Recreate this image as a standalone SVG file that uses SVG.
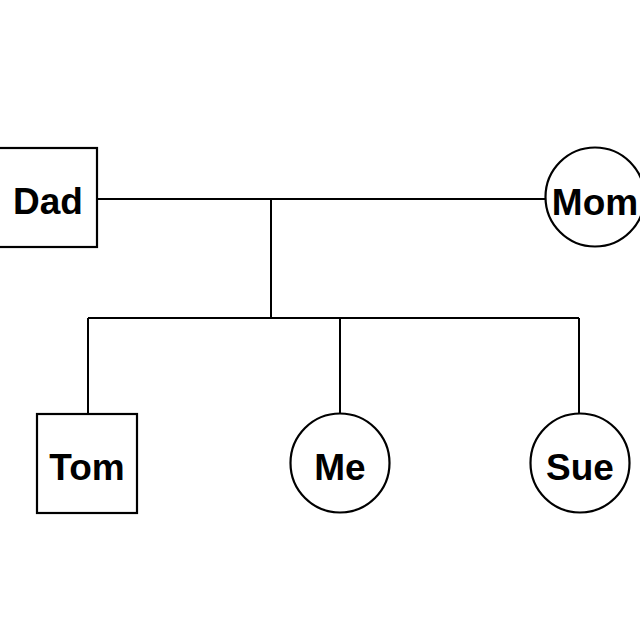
<svg xmlns="http://www.w3.org/2000/svg" width="640" height="640" viewBox="0 0 640 640">
<style>
.shape{fill:#fff;stroke:#000;stroke-width:2.2}
.lbl{font-family:"Liberation Sans",Arial,sans-serif;font-weight:bold;font-size:37px;text-anchor:middle;fill:#000}
.conn{stroke:#000;stroke-width:2;fill:none}
</style>
<rect width="640" height="640" fill="#fff"/>
<g id="connectors">
<line class="conn" x1="97" y1="199" x2="546" y2="199"/>
<line class="conn" x1="271" y1="199" x2="271" y2="318"/>
<line class="conn" x1="88" y1="318" x2="579" y2="318"/>
<line class="conn" x1="88" y1="318" x2="88" y2="414"/>
<line class="conn" x1="340" y1="318" x2="340" y2="414"/>
<line class="conn" x1="579" y1="318" x2="579" y2="414"/>
</g>
<g id="dad">
<rect class="shape" x="-3" y="148" width="100" height="99"/>
<text class="lbl" x="48" y="214">Dad</text>
</g>
<g id="mom">
<circle class="shape" cx="595" cy="197" r="49.5"/>
<text class="lbl" x="595" y="215">Mom</text>
</g>
<g id="tom">
<rect class="shape" x="37" y="414" width="100" height="99"/>
<text class="lbl" x="87" y="480">Tom</text>
</g>
<g id="me">
<circle class="shape" cx="340" cy="463" r="49.5"/>
<text class="lbl" x="340" y="480">Me</text>
</g>
<g id="sue">
<circle class="shape" cx="580" cy="463" r="49.5"/>
<text class="lbl" x="580" y="480">Sue</text>
</g>
</svg>
